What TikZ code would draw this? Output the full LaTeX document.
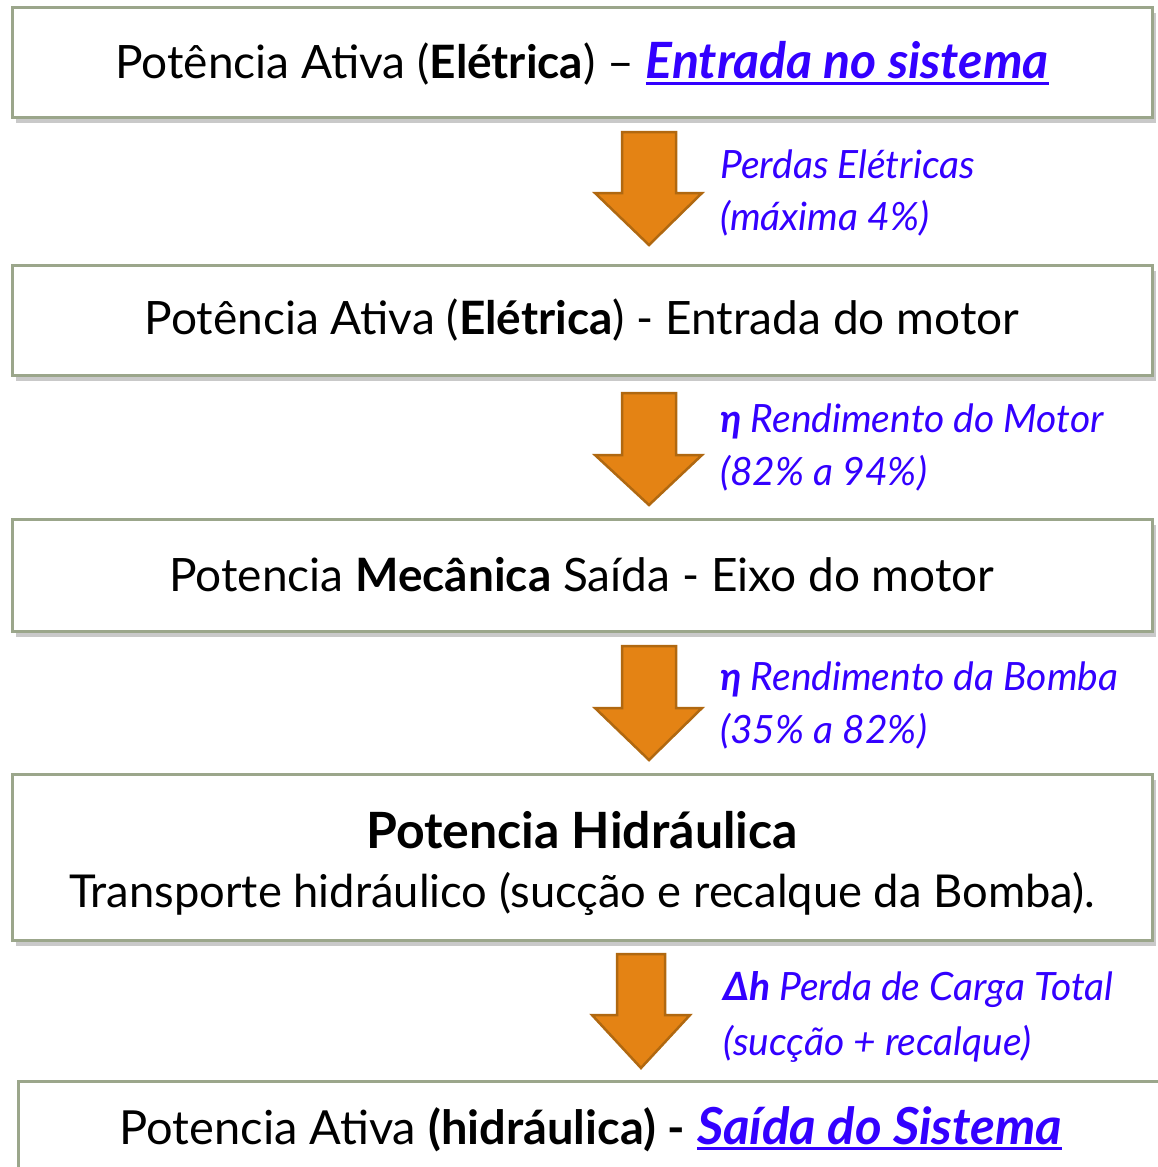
\documentclass[tikz,border=0pt]{standalone}
\usepackage{fontspec}
\setmainfont{Lato}
\usetikzlibrary{shadows}
\definecolor{boxline}{RGB}{155,166,139}
\definecolor{arrfill}{RGB}{228,131,20}
\definecolor{arrline}{RGB}{176,104,16}
\definecolor{lblue}{RGB}{51,0,255}
\newcommand\myul[1]{\setbox0\hbox{#1}\rlap{\rule[-6pt]{\wd0}{3pt}}\box0}
\begin{document}
\begin{tikzpicture}[x=1pt,y=-1pt,
  stagebox/.style={draw=boxline, line width=3pt, fill=white, minimum width=1140pt,
    minimum height=110pt, inner sep=0pt, font=\fontsize{46}{59}\selectfont,
    drop shadow={shadow xshift=4pt, shadow yshift=-6pt, opacity=0.3, fill=black!70}},
  lbl/.style={anchor=base west, inner sep=0pt, text=lblue, font=\fontsize{39}{44}\selectfont\itshape},
  flowarrow/.style={fill=arrfill, draw=arrline, line width=2.5pt, line join=miter}
]
\useasboundingbox (0,0) rectangle (1158,1167);

% boxes
\node[stagebox] (b1) at (582,62) {\rule{0pt}{40pt}Potência Ativa (\textbf{Elétrica}) – \textcolor{lblue}{\myul{\fontsize{50}{59}\selectfont\bfseries\itshape Entrada no sistema}}};
\node[stagebox] (b2) at (582,320) {Potência Ativa (\textbf{Elétrica}) - Entrada do motor};
\node[stagebox, minimum height=112pt] (b3) at (582,575) {Potencia \textbf{Mecânica} Saída - Eixo do motor};
\node[stagebox, minimum height=166pt, align=center] (b4) at (582,857) {{\fontsize{50}{59}\selectfont\bfseries\rule{0pt}{50pt}Potencia Hidráulica}\\{\fontsize{45.3}{59}\selectfont Transporte hidráulico (sucção e recalque da Bomba).}};
\node[stagebox, minimum width=1152pt, minimum height=94pt] (b5) at (594,1128) {\hspace*{-6pt}\rule{0pt}{40pt}{\fontsize{47}{59}\selectfont Potencia Ativa \textbf{(hidráulica) -} }\textcolor{lblue}{\myul{\fontsize{51}{59}\selectfont\bfseries\itshape Saída do Sistema}}};

% arrows
\draw[flowarrow] (622,132) -- (676,132) -- (676,193) -- (702,193) -- (649,245) -- (595,193) -- (622,193) -- cycle;
\draw[flowarrow] (622,393) -- (676,393) -- (676,455) -- (702,455) -- (649,505) -- (595,455) -- (622,455) -- cycle;
\draw[flowarrow] (622,646) -- (676,646) -- (676,708) -- (702,708) -- (649,760) -- (595,708) -- (622,708) -- cycle;
\draw[flowarrow] (617,954) -- (665,954) -- (665,1015) -- (690,1015) -- (641,1068) -- (592,1015) -- (617,1015) -- cycle;

% labels
\node[lbl] (l1a) at (720,178) {Perdas Elétricas};
\node[lbl] (l1b) at (720,230) {(máxima 4\%)};
\node[lbl] (l2a) at (720,432) {\textbf{η} Rendimento do Motor};
\node[lbl] (l2b) at (720,485) {(82\% a 94\%)};
\node[lbl] (l3a) at (720,690) {\textbf{η} Rendimento da Bomba};
\node[lbl] (l3b) at (720,743) {(35\% a 82\%)};
\node[lbl] (l4a) at (723,1000) {\textbf{Δh} Perda de Carga Total};
\node[lbl] (l4b) at (723,1055) {(sucção + recalque)};
\end{tikzpicture}
\end{document}
